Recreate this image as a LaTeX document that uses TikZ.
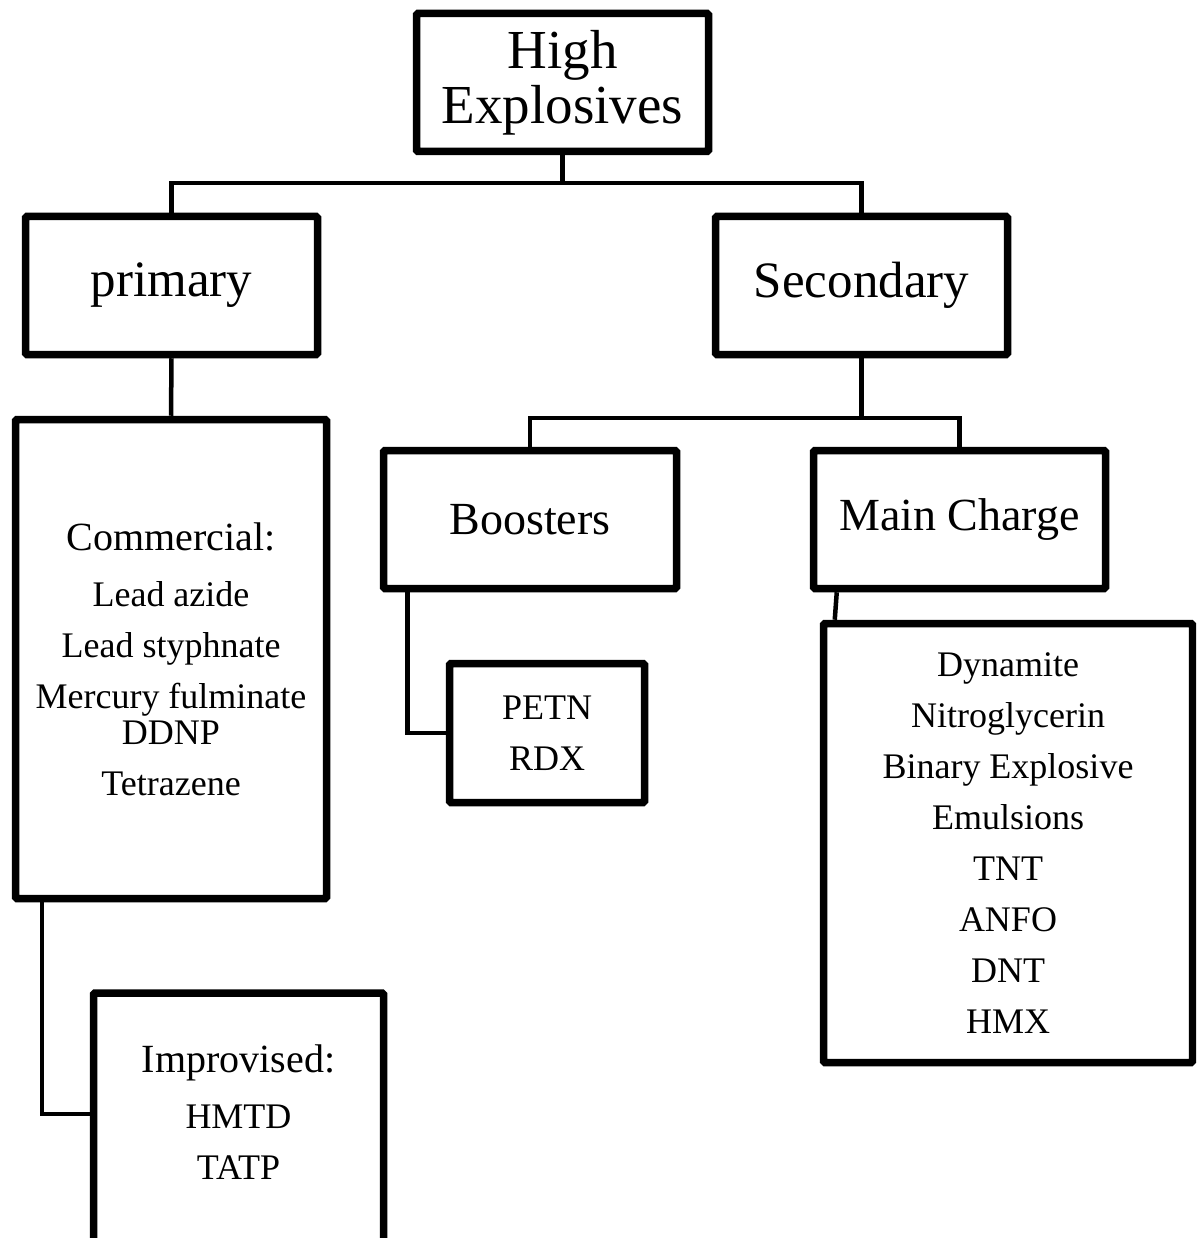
\documentclass[tikz,border=0pt]{standalone}
\usepackage{fontspec}
\setmainfont{Liberation Serif}
\usetikzlibrary{shadows}
\tikzset{
  box/.style={draw, line width=7.5pt, rounded corners=1.5pt, fill=white, align=center,
    drop shadow={opacity=0.25, shadow xshift=2pt, shadow yshift=-3pt}},
  link/.style={line width=4.5pt},
  big/.style={font=\fontsize{55}{55}\selectfont},
  mid/.style={font=\fontsize{51}{55}\selectfont},
  sub/.style={font=\fontsize{46}{50}\selectfont},
  list/.style={font=\fontsize{36}{51}\selectfont}
}
\newcommand{\listhead}[1]{{\fontsize{40}{51}\selectfont #1}}
\begin{document}
\begin{tikzpicture}[x=1pt,y=-1pt]
  \clip (0,0) rectangle (1196,1238);
  \fill[white] (0,0) rectangle (1196,1238);
  \node[box, big, minimum width=292pt, minimum height=138pt] (top) at (562.5,82.5) {High\\Explosives};
  \node[box, mid, minimum width=292pt, minimum height=138pt] (primary) at (171.5,285.5) {primary};
  \node[box, mid, minimum width=292pt, minimum height=138pt] (secondary) at (861.5,285.5) {Secondary};
  \node[box, list, minimum width=311pt, minimum height=479pt] (commercial) at (171,659)
    {\listhead{Commercial:}\\[5pt] Lead azide\\ Lead styphnate\\ Mercury fulminate\\[-15pt] DDNP\\ Tetrazene};
  \node[box, sub, minimum width=293pt, minimum height=138pt] (boosters) at (530,519.5) {Boosters};
  \node[box, sub, minimum width=292pt, minimum height=138pt] (maincharge) at (959.5,519.5) {Main Charge};
  \node[box, list, minimum width=195pt, minimum height=139pt] (petn) at (547,733) {PETN\\ RDX};
  \node[box, list, minimum width=369pt, minimum height=439pt] (mainlist) at (1008,843)
    {Dynamite\\ Nitroglycerin\\ Binary Explosive\\ Emulsions\\ TNT\\ ANFO\\ DNT\\ HMX};
  \node[box, list, minimum width=290pt, minimum height=280pt] (improvised) at (238.5,1133)
    {\listhead{Improvised:}\\[5pt] HMTD\\ TATP\\[-9pt]\mbox{}};
  \coordinate (split1) at (562.5,183);
  \coordinate (split2) at (861.5,418);
  \draw[link] (top.south) -- (split1);
  \draw[link] (primary.north) |- (split1) -| (secondary.north);
  \draw[link] (secondary.south) -- (split2);
  \draw[link] (boosters.north) |- (split2) -| (maincharge.north);
  \draw[link] (primary.south) -- (commercial.north);
  \draw[link] ([xshift=30pt]commercial.south west) |- (improvised.west |- 0,1114);
  \draw[link] ([xshift=27.5pt]boosters.south west) |- (petn.west);
  \draw[link] ([xshift=27pt]maincharge.south west) -- ([xshift=15pt]mainlist.north west);
\end{tikzpicture}
\end{document}
